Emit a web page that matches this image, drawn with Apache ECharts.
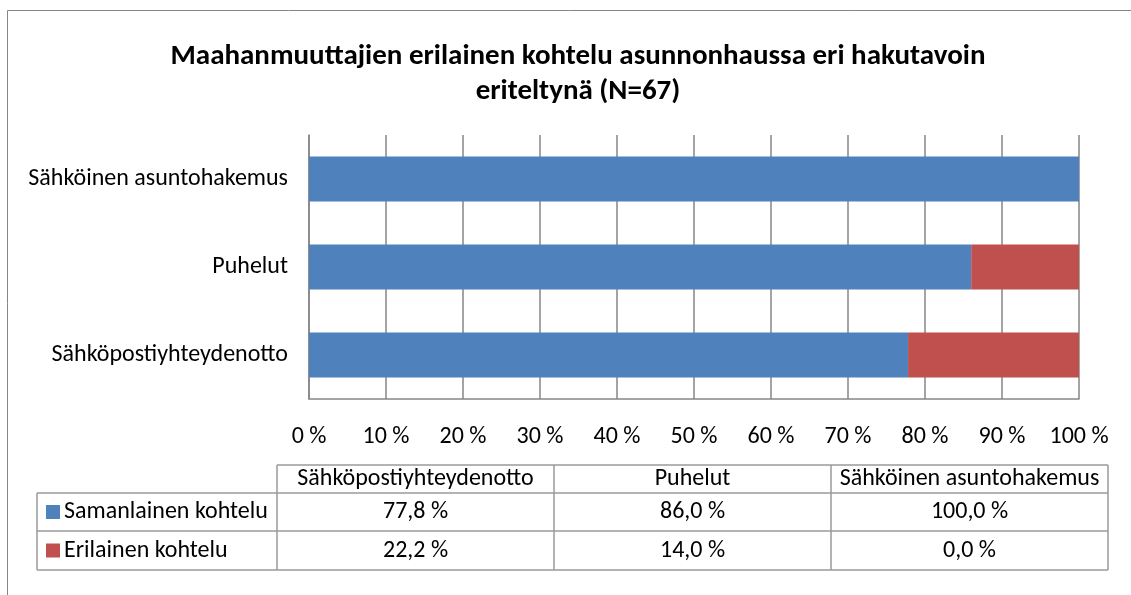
<!DOCTYPE html>
<html>
<head>
<meta charset="utf-8">
<title>Maahanmuuttajien erilainen kohtelu</title>
<script src="https://cdn.jsdelivr.net/npm/echarts@6/dist/echarts.min.js"></script>
<style>
  html, body { margin: 0; padding: 0; background: #fff; }
  #chart { width: 1131px; height: 595px; }
</style>
</head>
<body>
<div id="chart"></div>
<script>
  // data
  var categories = ['Sähköpostiyhteydenotto', 'Puhelut', 'Sähköinen asuntohakemus']
  var seriesNames = ['Samanlainen kohtelu', 'Erilainen kohtelu']
  var sameValues = [77.8, 86.0, 100.0]
  var diffValues = [22.2, 14.0, 0.0]
  var xTicks = [0, 10, 20, 30, 40, 50, 60, 70, 80, 90, 100]

  var FONT = 'Carlito, Lato, sans-serif'
  var FS = 24
  var BLUE = '#4F81BD'
  var RED = '#C0504D'
  var GRAY = '#868686'

  function pct(v) {
    return v.toFixed(1).replace('.', ',') + ' %'
  }

  // data table under the plot
  var tbl = {
    left: 37, labelRight: 277, right: 1108,
    rows: [465, 493, 531, 570]
  }
  var colW = (tbl.right - tbl.labelRight) / categories.length
  var graphics = []

  // outer frame (runs off the right/bottom edge)
  graphics.push({
    type: 'rect', silent: true,
    shape: { x: 7.5, y: 10.5, width: 1140, height: 600 },
    style: { fill: null, stroke: GRAY, lineWidth: 1 }
  })

  function hline(x1, x2, y) {
    graphics.push({ type: 'line', silent: true, shape: { x1: x1, y1: y, x2: x2, y2: y },
      style: { stroke: '#9a9a9a', lineWidth: 1.5 } })
  }
  function vline(x, y1, y2) {
    graphics.push({ type: 'line', silent: true, shape: { x1: x, y1: y1, x2: x, y2: y2 },
      style: { stroke: '#9a9a9a', lineWidth: 1.5 } })
  }

  hline(tbl.labelRight, tbl.right, tbl.rows[0])
  hline(tbl.left, tbl.right, tbl.rows[1])
  hline(tbl.left, tbl.right, tbl.rows[2])
  hline(tbl.left, tbl.right, tbl.rows[3])
  vline(tbl.left, tbl.rows[1], tbl.rows[3])
  for (var c = 0; c <= categories.length; c++) {
    vline(tbl.labelRight + c * colW, tbl.rows[0], tbl.rows[3])
  }

  function cellText(x, y, text, align) {
    graphics.push({ type: 'text', silent: true, x: x, y: y,
      style: { text: text, font: FS + 'px ' + FONT, fill: '#000', align: align, verticalAlign: 'middle' } })
  }

  categories.forEach(function (cat, i) {
    var cx = tbl.labelRight + (i + 0.5) * colW
    cellText(cx, (tbl.rows[0] + tbl.rows[1]) / 2, cat, 'center')
    cellText(cx, (tbl.rows[1] + tbl.rows[2]) / 2, pct(sameValues[i]), 'center')
    cellText(cx, (tbl.rows[2] + tbl.rows[3]) / 2, pct(diffValues[i]), 'center')
  })

  var keyColors = [BLUE, RED]
  seriesNames.forEach(function (name, r) {
    var cy = (tbl.rows[r + 1] + tbl.rows[r + 2]) / 2
    graphics.push({ type: 'rect', silent: true, shape: { x: 46, y: cy - 7, width: 14, height: 14 },
      style: { fill: keyColors[r] } })
    cellText(64, cy, name, 'left')
  })

  var chart = echarts.init(document.getElementById('chart'))
  chart.setOption({
    backgroundColor: '#fff',
    animation: false,
    title: {
      text: 'Maahanmuuttajien erilainen kohtelu asunnonhaussa eri hakutavoin\neriteltynä (N=67)',
      left: 573,
      top: 34,
      textAlign: 'center',
      textStyle: {
        fontFamily: FONT,
        fontWeight: 'bold',
        fontSize: 29,
        lineHeight: 35,
        color: '#000'
      }
    },
    grid: {
      left: 309,
      right: 52,
      top: 135,
      bottom: 196,
      containLabel: false
    },
    xAxis: {
      type: 'value',
      min: 0,
      max: 100,
      interval: 10,
      axisLine: { show: true, lineStyle: { color: GRAY, width: 1.5 } },
      axisTick: { show: false },
      axisLabel: {
        margin: 26,
        fontFamily: FONT,
        fontSize: FS,
        color: '#000',
        formatter: function (v) { return v + ' %' }
      },
      splitLine: { show: true, lineStyle: { color: GRAY, width: 1.5 } }
    },
    yAxis: {
      type: 'category',
      data: categories,
      axisLine: { show: true, lineStyle: { color: GRAY, width: 1.5 } },
      axisTick: { show: false },
      axisLabel: {
        margin: 21,
        fontFamily: FONT,
        fontSize: FS,
        color: '#000'
      }
    },
    series: [
      {
        name: seriesNames[0],
        type: 'bar',
        stack: 'total',
        barWidth: 45,
        itemStyle: { color: BLUE },
        data: sameValues
      },
      {
        name: seriesNames[1],
        type: 'bar',
        stack: 'total',
        barWidth: 45,
        itemStyle: { color: RED },
        data: diffValues
      }
    ],
    graphic: graphics
  })
</script>
</body>
</html>
